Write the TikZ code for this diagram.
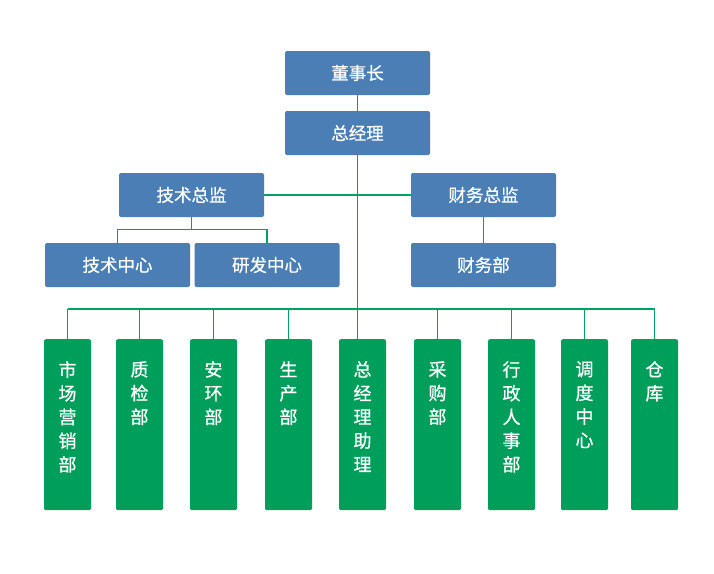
\documentclass[tikz,border=0pt]{standalone}
\usepackage{fontspec}
\newfontfamily\cjk[FakeBold=0.6]{Noto Sans CJK SC}
\usetikzlibrary{positioning}
\definecolor{boxblue}{HTML}{4A7EB4}
\definecolor{deptgreen}{HTML}{009E5B}
\definecolor{linegreen}{HTML}{00A060}
\tikzset{
  box/.style={fill=boxblue,rounded corners=2pt,minimum width=145pt,minimum height=44pt,inner sep=0,text=white,font=\cjk\fontsize{17.5}{20}\selectfont},
  greenbox/.style={fill=deptgreen,rounded corners=2pt,minimum width=47pt,minimum height=171pt,inner sep=0,anchor=north},
  deptname/.style={text=white,align=center,inner sep=0,anchor=north,font=\cjk\fontsize{18}{23.7}\selectfont},
  link/.style={draw=linegreen,line width=1.3pt}}

\begin{document}
\begin{tikzpicture}[x=1pt,y=-1pt]
  \fill[white] (0,0) rectangle (714,573);
  \useasboundingbox (0,0) rectangle (714,573);
  % management
  \node[box] (dsz) at (357.5,73) {董事长};
  \node[box] (zjl) at (357.5,133) {总经理};
  \node[box] (jszj) at (191.5,195) {技术总监};
  \node[box] (cwzj) at (483.5,195) {财务总监};
  \node[box] (jszx) at (117.5,265) {技术中心};
  \node[box] (yfzx) at (267,265) {研发中心};
  \node[box] (cwb) at (483.5,265) {财务部};
  % departments
  \foreach \i/\x/\name in {1/67.5/{市\\场\\营\\销\\部},2/139.5/{质\\检\\部},3/213.5/{安\\环\\部},
      4/288.5/{生\\产\\部},5/362.5/{总\\经\\理\\助\\理},6/437.5/{采\\购\\部},
      7/511.5/{行\\政\\人\\事\\部},8/584.5/{调\\度\\中\\心},9/654.5/{仓\\库}}{
    \node[greenbox] (g\i) at (\x,339) {};
    \node[deptname] (t\i) at (\x,361) {\name};}
  \coordinate (bus) at (0,309);
  \draw[link] (dsz) -- (zjl);
  \draw[link] (zjl.south) -- (zjl.south |- g5.north);
  \draw[link] (jszj) -- (cwzj);
  \draw[link] (cwzj) -- (cwb);
  \draw[link] (jszj.south) -- ++(0,12) coordinate (jsfork);
  \draw[link] (jszx.north) |- (jsfork) -| (yfzx.north);
  \draw[link] (g1.north |- bus) -- (g9.north |- bus);
  \foreach \i in {1,2,3,4,6,7,8,9}
    \draw[link] (g\i.north) -- (g\i.north |- bus);
\end{tikzpicture}
\end{document}
